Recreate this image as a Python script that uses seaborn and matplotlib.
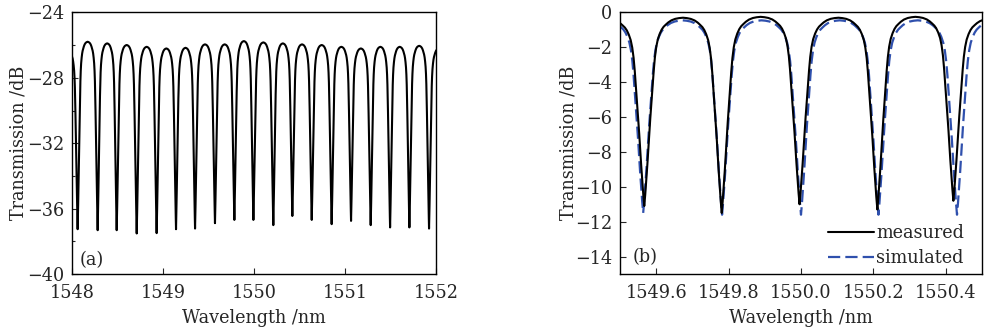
import numpy as np
import matplotlib.pyplot as plt
import seaborn as sns
from matplotlib.ticker import MultipleLocator

# shape of one notch: distance from the notch centre as a share
# of half the spacing to the next notch, and drop as a share of the notch depth
NOTCH_POS = [0.0, 0.025, 0.05, 0.08, 0.103, 0.13, 0.155, 0.185, 0.215, 0.245, 0.275, 0.31,
             0.35, 0.40, 0.45, 0.50, 0.56, 0.62, 0.70, 0.80, 0.90, 1.0]
NOTCH_DROP = [1.0, 0.94, 0.87, 0.78, 0.705, 0.615, 0.536, 0.45, 0.366, 0.28, 0.21, 0.155,
              0.115, 0.085, 0.063, 0.048, 0.036, 0.025, 0.014, 0.006, 0.002, 0.0]

# panel (a): wide scan
a_centres = [1548.062, 1548.282, 1548.491, 1548.711, 1548.930, 1549.143, 1549.352, 1549.571,
             1549.784, 1549.993, 1550.212, 1550.421, 1550.634, 1550.853, 1551.066, 1551.282,
             1551.495, 1551.707, 1551.923]
a_dips = [-37.26, -37.32, -37.32, -37.52, -37.50, -37.26, -37.22, -36.89, -36.69, -36.69,
          -37.01, -36.45, -36.69, -36.95, -36.75, -37.01, -37.15, -37.15, -37.22]
# level of the tops: left edge, between the notches, right edge
a_peaks = [-26.3, -25.79, -25.89, -25.99, -26.10, -26.20, -26.16, -25.95, -25.95, -25.75,
           -25.83, -25.89, -25.95, -25.99, -26.10, -26.20, -26.10, -26.10, -26.04, -26.2]

# panel (b): zoom, measured vs simulated
b_meas_centres = [1549.567, 1549.781, 1549.996, 1550.211, 1550.421]
b_meas_dips = [-11.1, -11.5, -11.0, -11.3, -10.8]
b_meas_peaks = [-0.35, -0.30, -0.25, -0.30, -0.25, -0.35]
b_sim_centres = [1549.564, 1549.782, 1550.000, 1550.214, 1550.431]
b_sim_dips = [-11.5, -11.6, -11.6, -11.6, -11.6]
b_sim_peaks = [-0.45, -0.45, -0.45, -0.45, -0.45, -0.45]


def spectrum(centres, dips, peaks):
    pos = np.array(NOTCH_POS)
    drop = np.array(NOTCH_DROP)
    c = np.array(centres)
    gaps = np.diff(c) / 2
    left_half = np.r_[gaps[0], gaps]
    right_half = np.r_[gaps, gaps[-1]]
    xs, ys = [], []
    for i in range(len(c)):
        pl, pr = peaks[i], peaks[i + 1]
        xs += list(c[i] - pos[::-1] * left_half[i])
        ys += list(pl - drop[::-1] * (pl - dips[i]))
        xs += list(c[i] + pos[1:] * right_half[i])
        ys += list(pr - drop[1:] * (pr - dips[i]))
    return np.array(xs), np.array(ys)


sns.set_style("ticks")
plt.rcParams['font.family'] = ['DejaVu Serif']
plt.rcParams['font.size'] = 12.7
plt.rcParams['lines.dashed_pattern'] = [5.5, 2.3]

fig = plt.figure(figsize=(9.89, 3.32), dpi=100)
ax1 = fig.add_axes([0.0728, 0.1747, 0.3681, 0.7877])
ax2 = fig.add_axes([0.6269, 0.1747, 0.3660, 0.7877])

x, y = spectrum(a_centres, a_dips, a_peaks)
sns.lineplot(x=x, y=y, ax=ax1, color='black', lw=1.5, sort=False, estimator=None)
ax1.set_xlim(1548, 1552)
ax1.set_ylim(-40, -24)
ax1.set_xticks([1548, 1549, 1550, 1551, 1552])
ax1.set_yticks([-40, -36, -32, -28, -24])
ax1.yaxis.set_minor_locator(MultipleLocator(2))
ax1.text(0.022, 0.055, '(a)', transform=ax1.transAxes, va='center', ha='left')

x, y = spectrum(b_sim_centres, b_sim_dips, b_sim_peaks)
sns.lineplot(x=x, y=y, ax=ax2, color='#2f50ad', lw=1.6, ls='--', sort=False,
             estimator=None, label='simulated')
x, y = spectrum(b_meas_centres, b_meas_dips, b_meas_peaks)
sns.lineplot(x=x, y=y, ax=ax2, color='black', lw=1.5, sort=False, estimator=None,
             label='measured')
ax2.set_xlim(1549.5, 1550.5)
ax2.set_ylim(-15, 0)
ax2.set_xticks([1549.6, 1549.8, 1550.0, 1550.2, 1550.4])
ax2.set_xticklabels(['1549.6', '1549.8', '1550.0', '1550.2', '1550.4'])
ax2.set_yticks(list(range(-14, 1, 2)))
ax2.text(0.036, 0.065, '(b)', transform=ax2.transAxes, va='center', ha='left')
handles, labels = ax2.get_legend_handles_labels()
ax2.legend(handles[::-1], labels[::-1], loc='lower right', bbox_to_anchor=(0.95, 0.025),
           frameon=False, handlelength=2.6, handletextpad=0.1, labelspacing=0.42,
           borderaxespad=0, borderpad=0)

ax1.set_ylabel('Transmission /dB', labelpad=-0.5)
ax2.set_ylabel('Transmission /dB', labelpad=-1.5)
for ax in (ax1, ax2):
    ax.set_xlabel('Wavelength /nm', labelpad=5)
    ax.tick_params(which='major', direction='in', length=4, width=0.8)
    ax.tick_params(which='minor', direction='in', length=2.5, width=0.8)
    ax.tick_params(axis='x', which='major', pad=7.5)
    ax.tick_params(axis='y', which='major', pad=5.5)
    for s in ax.spines.values():
        s.set_linewidth(1.0)
        s.set_color('black')

fig.savefig('out.png', dpi=100)
